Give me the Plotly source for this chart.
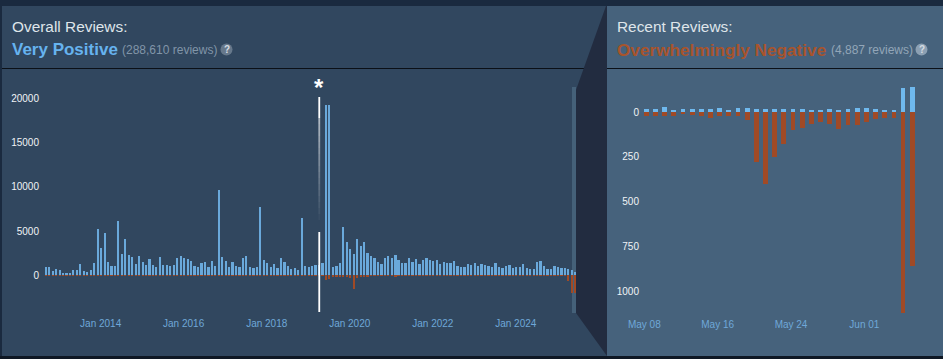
import plotly.graph_objects as go
import pandas as pd

W, H = 943, 359

overall_pos = [980,980,490,750,560,300,260,260,600,600,1280,490,380,560,1390,5260,3080,4740,1500,1050,1050,6090,2440,4060,2330,2030,1320,2180,1500,1170,1800,1170,940,2030,1170,1170,1050,1170,1950,2180,1990,1800,1620,1090,980,1430,1500,940,1620,1050,9620,2030,1620,940,1500,1050,980,1950,2140,940,830,940,7670,1690,1390,980,1240,830,1950,1500,1050,750,860,600,6470,1090,940,1050,1200,1200,1350,19300,19300,980,1015,1350,5490,3800,2930,2400,4060,3300,3760,2550,2140,1920,1500,1240,2000,2140,1920,2250,1730,1390,1350,1950,1500,1800,1320,1690,1920,1730,1580,1690,1280,1470,1390,1390,1580,1090,980,980,1240,1130,1390,1050,1280,1170,1015,980,1390,980,790,1050,1130,860,940,940,1240,790,710,680,1500,1650,1050,680,710,1015,940,860,860,680,640,375]
overall_neg = [-5,-5,-5,-5,-5,-5,-5,-5,-5,-5,-5,-5,-5,-5,-5,-10,-10,-20,-10,-5,-5,-20,-10,-15,-10,-5,-5,-5,-5,-5,-5,-5,-5,-5,-5,-5,-5,-5,-5,-5,-5,-5,-5,-5,-5,-5,-5,-5,-5,-5,-10,-5,-5,-5,-5,-5,-5,-5,-5,-5,-5,-5,-20,-5,-5,-5,-5,-5,-10,-5,-5,-5,-5,-5,-10,-5,-5,-5,-5,-5,-10,-480,-420,-150,-120,-100,-150,-100,-300,-1550,-320,-240,-180,-120,-40,-40,-20,-15,-15,-15,-15,-100,-15,-10,-10,-30,-15,-15,-10,-15,-15,-20,-20,-10,-10,-10,-10,-10,-10,-10,-10,-10,-10,-10,-10,-10,-10,-10,-10,-10,-10,-10,-10,-10,-10,-10,-10,-10,-10,-10,-10,-20,-40,-10,-10,-10,-10,-10,-10,-10,-10,-650,-2030,-2030]
overall_months = pd.date_range("2012-09-01", periods=len(overall_pos), freq="MS").strftime("%Y-%m-%d").tolist()

recent_pos = [15,19,28,9,17,17,15,15,24,9,22,20,19,17,17,15,15,19,9,9,15,13,15,20,24,15,13,11,133,139]
recent_neg = [-22,-22,-22,-22,-13,-18,-20,-35,-22,-20,-20,-43,-278,-400,-250,-176,-98,-87,-65,-56,-65,-93,-70,-70,-58,-41,-35,-33,-1120,-855]
recent_days = pd.date_range("2025-05-08", periods=len(recent_pos), freq="D").strftime("%Y-%m-%d").tolist()

overall_xticks = ["2014-01-01", "2016-01-01", "2018-01-01", "2020-01-01", "2022-01-01", "2024-01-01"]
overall_xlabels = ["Jan 2014", "Jan 2016", "Jan 2018", "Jan 2020", "Jan 2022", "Jan 2024"]
overall_yticks = [0, 5000, 10000, 15000, 20000]
overall_ylabels = ["0", "5000", "10000", "15000", "20000"]
recent_xticks = ["2025-05-08", "2025-05-16", "2025-05-24", "2025-06-01"]
recent_xlabels = ["May 08", "May 16", "May 24", "Jun 01"]
recent_yticks = [0, -250, -500, -750, -1000]
recent_ylabels = ["0", "250", "500", "750", "1000"]
marker_month = "2019-04-01"

BLUE_L, BLUE_R, RED = "#6aa9db", "#6fb9ee", "#a04a26"
DAY = 86400000
l_day_px = 3.46 * 12 / 365.25
r_day_px = 9.17
l_bar_w, r_bar_w = 15 * DAY, 0.52 * DAY
l_shift, r_shift = 0.8 / l_day_px * DAY, 2.0 / r_day_px * DAY
l_off, r_off = -l_bar_w / 2 + l_shift, -r_bar_w / 2 + r_shift

fig = go.Figure()
fig.add_bar(x=overall_months, y=overall_pos, marker=dict(color=BLUE_L, line_width=0), width=l_bar_w, offset=l_off, xaxis="x", yaxis="y")
fig.add_bar(x=overall_months, y=overall_neg, marker=dict(color=RED, line_width=0), width=l_bar_w, offset=l_off, xaxis="x", yaxis="y")
fig.add_bar(x=recent_days, y=recent_pos, marker=dict(color=BLUE_R, line_width=0), width=r_bar_w, offset=r_off, xaxis="x2", yaxis="y2")
fig.add_bar(x=recent_days, y=recent_neg, marker=dict(color=RED, line_width=0), width=r_bar_w, offset=r_off, xaxis="x2", yaxis="y2")

def px(x): return x / W
def py(y): return 1 - y / H
def rect(x0, y0, x1, y1, color, layer="below"):
    return dict(type="rect", xref="paper", yref="paper", x0=px(x0), x1=px(x1), y0=py(y0), y1=py(y1),
                fillcolor=color, line_width=0, layer=layer)
def poly(points, color):
    d = "M " + " L ".join(f"{px(a)},{py(b)}" for a, b in points) + " Z"
    return dict(type="path", xref="paper", yref="paper", path=d, fillcolor=color, line_width=0, layer="below")

shapes = [
    rect(0, 0, W, H, "#1a2a3f"),
    rect(2, 6, 607, 356, "#31475f"),
    rect(2, 68, 584, 69, "#0b1017"),
    poly([(576, 90), (606, 6), (607, 6), (607, 356), (576, 313)], "#222c40"),
    rect(607, 6, W, 356, "#46627c"),
    rect(607, 68, W, 69, "#0b1017"),
    rect(572, 87, 576, 313, "#456179"),
    rect(0, 356, W, H, "#0f1824"),
]
fig.update_layout(shapes=shapes)

# white marker line, fading out over its upper part
fade_bottom, fade_top = 220, 118
marker_steps = [(97, 118, 1.0), (232, 312, 1.0)]
n_steps = 17
for i in range(n_steps):
    y0 = fade_top + (fade_bottom - fade_top) * i / n_steps
    y1 = fade_top + (fade_bottom - fade_top) * (i + 1) / n_steps
    marker_steps.append((y0, y1, 0.62 * (1 - i / n_steps)))
mark_c = pd.Timestamp(marker_month) + pd.Timedelta(milliseconds=l_shift)
for y0, y1, op in marker_steps:
    fig.add_shape(type="rect", xref="x", yref="paper", x0=mark_c - pd.Timedelta(days=8),
                  x1=mark_c + pd.Timedelta(days=8), y0=py(y1), y1=py(y0),
                  fillcolor="white", opacity=op, line_width=0, layer="above")

FONT = "Liberation Sans, Arial, sans-serif"
def txt(x, y, s, size, color, bold=False, xanchor="left"):
    fig.add_annotation(xref="paper", yref="paper", x=px(x), y=py(y), text=f"<b>{s}</b>" if bold else s,
                       showarrow=False, xanchor=xanchor, yanchor="middle",
                       font=dict(family=FONT, size=size, color=color), borderpad=0, borderwidth=0)

txt(12, 27, "Overall Reviews:", 15.4, "#dfe5ea")
txt(12, 49.5, "Very Positive", 17, "#66b3ef", bold=True)
txt(122, 50.5, "(288,610 reviews)", 12, "#8195a8")
txt(617, 27, "Recent Reviews:", 15.4, "#dfe5ea")
txt(617, 49.5, "Overwhelmingly Negative", 17.2, "#a8542c", bold=True)
txt(831, 50.5, "(4,887 reviews)", 12, "#93a6b8")
for cx, c in [(226.5, "#66788b"), (921.5, "#8ca0b3")]:
    fig.add_shape(type="circle", xref="paper", yref="paper", x0=px(cx-6), x1=px(cx+6), y0=py(55.5), y1=py(43.5),
                  fillcolor=c, line_width=0, layer="below")
    txt(cx, 49.5, "?", 10, "#d6dde3", bold=True, xanchor="center")
fig.add_annotation(xref="x", yref="paper", x=mark_c, y=py(88), text="<b>*</b>", showarrow=False,
                   yanchor="middle", font=dict(family=FONT, size=24, color="white"))

# pixel-anchored axis domains
Ly0, Ly1 = 312, 72
Lx0, Lx1 = 40, 576
Rx0, Rx1 = 640, 935
Ry0 = 314
l_per_px = 20000 / 177
r_per_px = 1000 / 179.6
first_l = pd.Timestamp(overall_months[0])
first_r = pd.Timestamp(recent_days[0])
lr = [first_l + pd.Timedelta(days=(Lx0 - 45.3) / l_day_px), first_l + pd.Timedelta(days=(Lx1 - 45.3) / l_day_px)]
rr = [first_r + pd.Timedelta(days=(Rx0 - 644.3) / r_day_px), first_r + pd.Timedelta(days=(Rx1 - 644.3) / r_day_px)]

xcommon = dict(type="date", showgrid=False, zeroline=False, showline=False, ticks="outside", ticklen=1,
               tickcolor="rgba(0,0,0,0)", tickangle=0, automargin=False,
               tickfont=dict(family=FONT, size=10, color="#6fa8d8"), fixedrange=True)
ycommon = dict(showgrid=False, zeroline=False, showline=False, ticks="", automargin=False,
               tickfont=dict(family=FONT, size=10, color="#f0f3f6"), fixedrange=True)
fig.update_layout(
    template="none",
    width=W, height=H, margin=dict(l=0, r=0, t=0, b=0), paper_bgcolor="#1a2a3f", plot_bgcolor="rgba(0,0,0,0)",
    barmode="overlay", showlegend=False, bargap=0,
    xaxis=dict(xcommon, domain=[px(Lx0), px(Lx1)], range=lr, tickvals=overall_xticks, ticktext=overall_xlabels, anchor="y", ticklen=2),
    yaxis=dict(ycommon, domain=[py(Ly0), py(Ly1)], range=[-(Ly0 - 275.3) * l_per_px, (275.3 - Ly1) * l_per_px],
               tickvals=overall_yticks, ticktext=overall_ylabels, anchor="x"),
    xaxis2=dict(xcommon, domain=[px(Rx0), px(Rx1)], range=rr, tickvals=recent_xticks, ticktext=recent_xlabels, anchor="y2"),
    yaxis2=dict(ycommon, domain=[py(Ry0), py(Ly1)], range=[-(Ry0 - 112) * r_per_px, (112 - Ly1) * r_per_px],
                tickvals=recent_yticks, ticktext=recent_ylabels, anchor="x2"),
)
fig.write_html("out.html", config={"displayModeBar": False},
               post_script="document.body.style.margin='0';document.documentElement.style.overflow='hidden';")
